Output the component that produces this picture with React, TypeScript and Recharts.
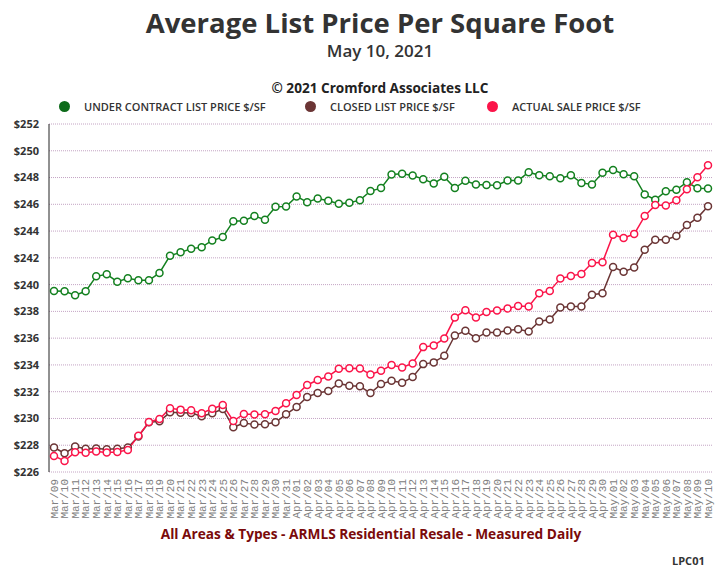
import React from "react";
import { LineChart, Line, XAxis, YAxis, CartesianGrid } from "recharts";

const dates = [
  "Mar/09", "Mar/10", "Mar/11", "Mar/12", "Mar/13", "Mar/14", "Mar/15", "Mar/16",
  "Mar/17", "Mar/18", "Mar/19", "Mar/20", "Mar/21", "Mar/22", "Mar/23", "Mar/24",
  "Mar/25", "Mar/26", "Mar/27", "Mar/28", "Mar/29", "Mar/30", "Mar/31",
  "Apr/01", "Apr/02", "Apr/03", "Apr/04", "Apr/05", "Apr/06", "Apr/07", "Apr/08",
  "Apr/09", "Apr/10", "Apr/11", "Apr/12", "Apr/13", "Apr/14", "Apr/15", "Apr/16",
  "Apr/17", "Apr/18", "Apr/19", "Apr/20", "Apr/21", "Apr/22", "Apr/23", "Apr/24",
  "Apr/25", "Apr/26", "Apr/27", "Apr/28", "Apr/29", "Apr/30",
  "May/01", "May/02", "May/03", "May/04", "May/05", "May/06", "May/07", "May/08",
  "May/09", "May/10",
];

const underContract = [
  239.53, 239.5, 239.21, 239.5, 240.62, 240.77, 240.22, 240.47, 240.32, 240.32,
  240.87, 242.16, 242.41, 242.68, 242.8, 243.3, 243.55, 244.74, 244.77, 245.12,
  244.85, 245.82, 245.84, 246.59, 246.16, 246.44, 246.26, 246.04, 246.11, 246.31,
  246.99, 247.21, 248.23, 248.28, 248.15, 247.88, 247.56, 248.05, 247.21, 247.76,
  247.48, 247.44, 247.43, 247.78, 247.78, 248.4, 248.17, 248.1, 247.95, 248.17,
  247.6, 247.48, 248.35, 248.57, 248.25, 248.1, 246.73, 246.34, 246.98, 247.08,
  247.65, 247.2, 247.18,
];

const closedList = [
  227.83, 227.4, 227.9, 227.73, 227.75, 227.7, 227.73, 227.83, 228.65, 229.71,
  229.79, 230.46, 230.43, 230.41, 230.16, 230.39, 230.71, 229.34, 229.66, 229.54,
  229.56, 229.71, 230.31, 230.86, 231.61, 231.9, 232.05, 232.62, 232.45, 232.4,
  231.9, 232.57, 232.82, 232.67, 233.09, 234.06, 234.19, 234.68, 236.2, 236.55,
  236.0, 236.43, 236.42, 236.57, 236.67, 236.5, 237.24, 237.39, 238.29, 238.36,
  238.36, 239.25, 239.35, 241.32, 240.97, 241.27, 242.61, 243.35, 243.35, 243.63,
  244.45, 244.99, 245.86,
];

const actualSale = [
  227.2, 226.83, 227.48, 227.43, 227.53, 227.45, 227.5, 227.65, 228.7, 229.74,
  229.96, 230.76, 230.66, 230.61, 230.39, 230.73, 231.01, 229.81, 230.34, 230.29,
  230.31, 230.56, 231.13, 231.75, 232.5, 232.87, 233.14, 233.71, 233.76, 233.74,
  233.29, 233.56, 233.99, 233.81, 234.11, 235.33, 235.45, 235.98, 237.54, 238.09,
  237.54, 237.95, 238.06, 238.21, 238.41, 238.36, 239.35, 239.53, 240.45, 240.65,
  240.8, 241.62, 241.67, 243.73, 243.48, 243.78, 245.12, 245.94, 245.91, 246.31,
  247.13, 248.02, 248.92,
];

const yTicks = [226, 228, 230, 232, 234, 236, 238, 240, 242, 244, 246, 248, 250, 252];

const GREEN = "#13801f";
const BROWN = "#6b3535";
const RED = "#fb1449";

const data = dates.map((d, i) => ({
  date: d,
  underContract: underContract[i],
  closedList: closedList[i],
  actualSale: actualSale[i],
}));

const font = "'Open Sans', sans-serif";

function DateTick(props: any) {
  const { x, payload } = props;
  const y = 479;
  return (
    <text
      x={x}
      y={y}
      transform={`rotate(-90 ${x} ${y})`}
      textAnchor="end"
      dy="0.35em"
      fontFamily="'Liberation Mono', monospace"
      fontSize={11}
      fill="#808080"
    >
      {payload.value}
    </text>
  );
}

const legendItems = [
  { label: "UNDER CONTRACT LIST PRICE $/SF", color: "#0d6b1a", x: 59 },
  { label: "CLOSED LIST PRICE $/SF", color: "#6b3535", x: 305 },
  { label: "ACTUAL SALE PRICE $/SF", color: "#fb1449", x: 487 },
];

const dot = (color: string) => ({ r: 3.5, stroke: color, strokeWidth: 1.5, fill: "#fff" });

export default function App() {
  return (
    <div style={{ position: "absolute", left: 0, top: 0, width: 728, height: 578, background: "#fff", fontFamily: font }}>
      <div style={{ position: "absolute", left: 0, width: 760, top: 7, lineHeight: "32px", textAlign: "center", fontSize: 27.5, fontWeight: 700, color: "#333" }}>
        Average List Price Per Square Foot
      </div>
      <div style={{ position: "absolute", left: 0, width: 760, top: 40, lineHeight: "22px", textAlign: "center", fontSize: 17, fontWeight: 600, color: "#333" }}>
        May 10, 2021
      </div>
      <div style={{ position: "absolute", left: 0, width: 760, top: 78, textAlign: "center", fontSize: 13.6, fontWeight: 700, color: "#222" }}>
        © 2021 Cromford Associates LLC
      </div>
      {legendItems.map((it) => (
        <div key={it.label} style={{ position: "absolute", left: it.x, top: 98, height: 16, display: "flex", alignItems: "center" }}>
          <span style={{ width: 11, height: 11, borderRadius: "50%", background: it.color, display: "inline-block" }} />
          <span style={{ marginLeft: 14, fontSize: 11, fontWeight: 600, color: "#333", whiteSpace: "nowrap" }}>{it.label}</span>
        </div>
      ))}
      <LineChart
        width={728}
        height={578}
        data={data}
        margin={{ top: 124, right: 15, bottom: 0, left: 0 }}
        style={{ position: "absolute", left: 0, top: 0 }}
      >
        <CartesianGrid vertical={false} stroke="#c4a4c4" strokeDasharray="1 1" />
        <XAxis
          dataKey="date"
          interval={0}
          height={106}
          axisLine={false}
          tickLine={false}
          padding={{ left: 5, right: 5 }}
          tick={<DateTick />}
        />
        <YAxis
          width={49}
          domain={[226, 252]}
          ticks={yTicks}
          tickFormatter={(v: number) => `$${v}`}
          axisLine={{ stroke: "#222", strokeWidth: 1 }}
          tickLine={false}
          tickSize={6}
          tickMargin={4}
          tick={{ fill: "#333", fontSize: 11, fontWeight: 700, fontFamily: font }}
          interval={0}
        />
        <Line type="linear" dataKey="closedList" stroke={BROWN} strokeWidth={1.5} dot={dot(BROWN)} isAnimationActive={false} />
        <Line type="linear" dataKey="underContract" stroke={GREEN} strokeWidth={1.5} dot={dot(GREEN)} isAnimationActive={false} />
        <Line type="linear" dataKey="actualSale" stroke={RED} strokeWidth={1.5} dot={dot(RED)} isAnimationActive={false} />
      </LineChart>
      <div style={{ position: "absolute", left: 0, width: 742, top: 524, textAlign: "center", fontSize: 13.7, fontWeight: 700, color: "#7a0a0a" }}>
        All Areas &amp; Types - ARMLS Residential Resale - Measured Daily
      </div>
      <div style={{ position: "absolute", left: 672, top: 553, fontSize: 11, fontWeight: 700, color: "#333" }}>
        LPC01
      </div>
    </div>
  );
}
